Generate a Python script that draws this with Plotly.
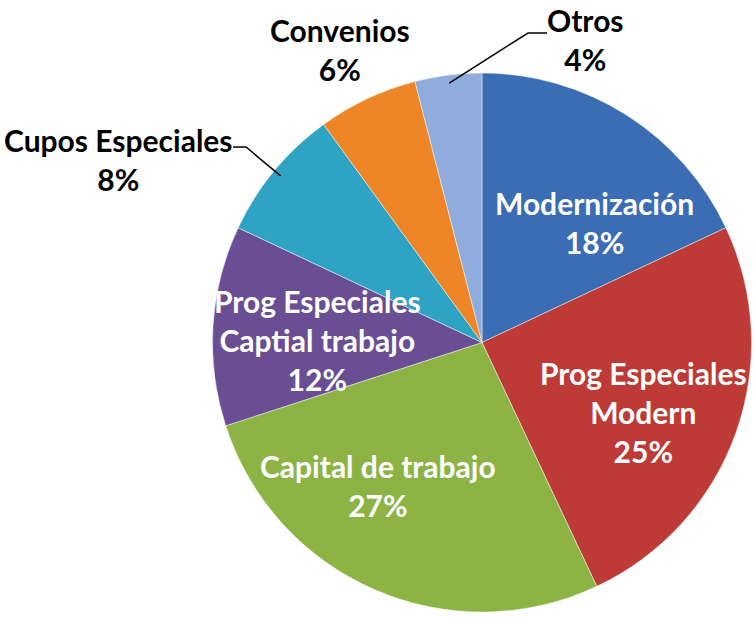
import math
import plotly.graph_objects as go

# ---- data ----
categories = ["Modernización", "Prog Especiales<br>Modern", "Capital de trabajo",
              "Prog Especiales<br>Captial trabajo", "Cupos Especiales", "Convenios", "Otros"]
values = [18, 25, 27, 12, 8, 6, 4]
colors = ["#3A6DB4", "#BD3A36", "#8DB345", "#6A4E93", "#2FA3C3", "#EE8627", "#8FACDC"]

# ---- layout helpers (pixels of the 756x617 page) ----
W, H = 756, 617
pie_x0, pie_x1, pie_y0, pie_y1 = 212, 752, 73, 612
cx, cy = (pie_x0 + pie_x1) / 2, (pie_y0 + pie_y1) / 2
R = min(pie_x1 - pie_x0, pie_y1 - pie_y0) / 2

def px(x):
    return x / W

def py(y):
    return 1 - y / H

# label centres in pixels, and text colour
label_pos = [(594, 222), (643, 412), (378, 485), (317, 340), (118, 159), (340, 49), (585, 39)]
inside = [True, True, True, True, False, False, False]

fig = go.Figure(go.Pie(
    labels=[c.replace("<br>", " ") for c in categories],
    values=values,
    sort=False,
    direction="clockwise",
    rotation=0,
    marker=dict(colors=colors, line=dict(color="rgba(255,255,255,0.45)", width=1)),
    textinfo="none",
    hoverinfo="label+percent",
    domain=dict(x=[px(pie_x0), px(pie_x1)], y=[py(pie_y1), py(pie_y0)]),
    showlegend=False,
))

total = sum(values)
annotations = []
for cat, v, (lx, ly), ins in zip(categories, values, label_pos, inside):
    annotations.append(dict(
        x=px(lx), y=py(ly), xref="paper", yref="paper",
        xanchor="center", yanchor="middle", showarrow=False,
        text=f"{cat}<br>{round(100 * v / total)}%",
        font=dict(family="Lato, 'Liberation Sans', sans-serif", size=30,
                  color="white" if ins else "black", weight="bold"),
    ))

# leader lines for Otros and Cupos Especiales, ending at slice mid-angle on the rim
cum = 0
mids = []
for v in values:
    mids.append((cum + v / 2) / total * 2 * math.pi)
    cum += v

def rim(i, f=1.0):
    a = mids[i]
    return cx + R * f * math.sin(a), cy - R * f * math.cos(a)

shapes = []
# Otros (index 6): elbow left of its label
ex, ey = rim(6, 0.97)
shapes.append(dict(type="path", xref="paper", yref="paper",
                   path=f"M {px(547)} {py(33)} L {px(528)} {py(33)} L {px(ex)} {py(ey)}",
                   line=dict(color="black", width=1.5)))
# Cupos Especiales (index 4): elbow right of its label
ex, ey = rim(4, 0.97)
shapes.append(dict(type="path", xref="paper", yref="paper",
                   path=f"M {px(233)} {py(147)} L {px(246)} {py(147)} L {px(ex)} {py(ey)}",
                   line=dict(color="black", width=1.5)))

fig.update_layout(
    width=W, height=H,
    margin=dict(l=0, r=0, t=0, b=0),
    paper_bgcolor="white", plot_bgcolor="white",
    annotations=annotations,
    shapes=shapes,
)

fig.write_html("out.html", config={"displayModeBar": False},
               post_script="document.body.style.margin='0';")
